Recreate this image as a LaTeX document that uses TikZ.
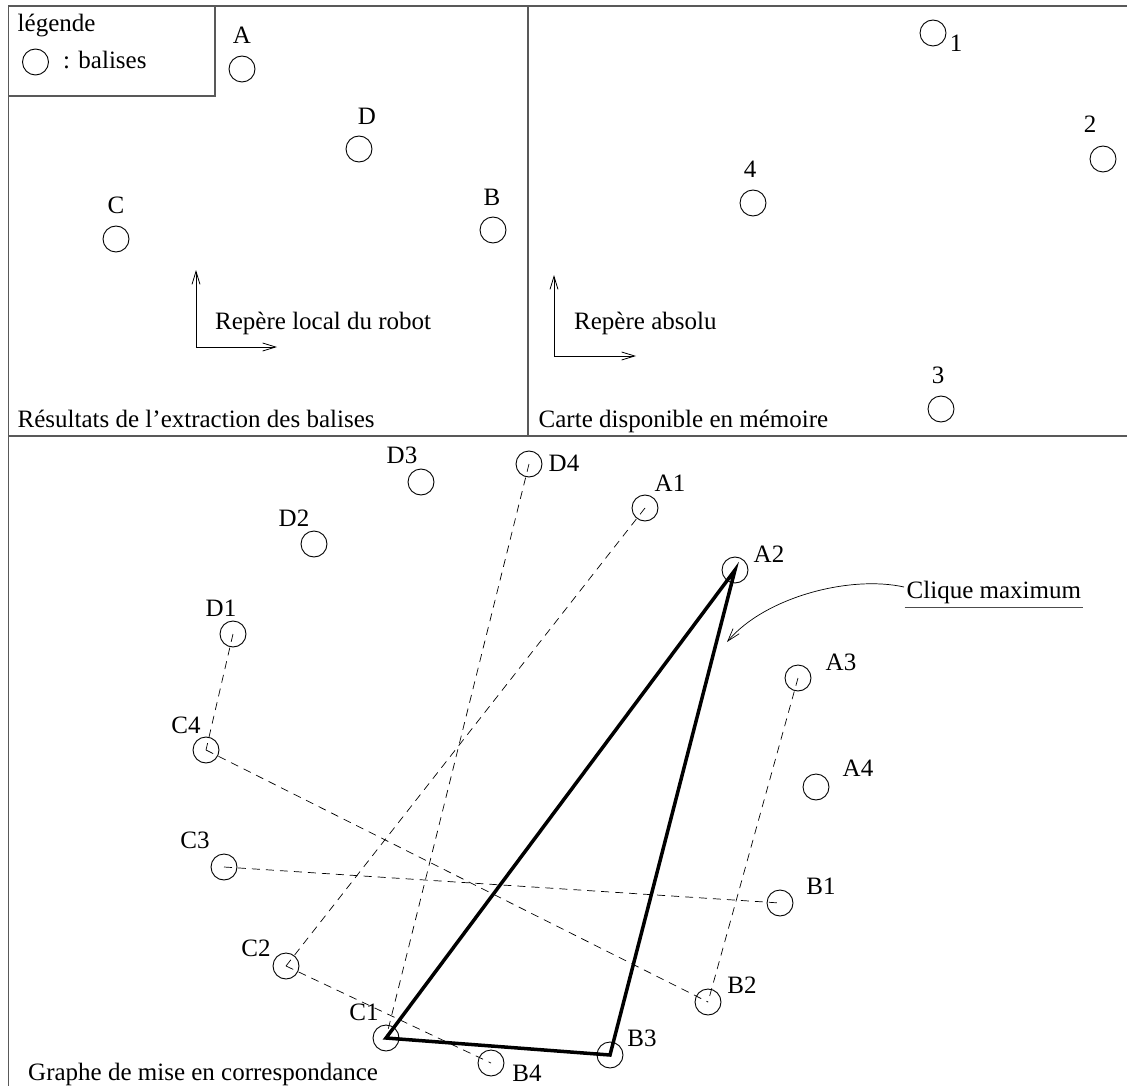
\documentclass[tikz,border=0pt]{standalone}
\usepackage{fontspec}
\setmainfont{Liberation Serif}
\usetikzlibrary{arrows.meta}

\begin{document}
\begin{tikzpicture}[
  x=1pt, y=-1pt,
  font=\fontsize{25}{30}\selectfont,
  frame/.style={black!65, line width=1.3pt},
  balise/.style={circle, draw, line width=0.9pt, minimum size=26pt, inner sep=0pt},
  lbl/.style={inner sep=0pt},
  txt/.style={inner sep=0pt, anchor=base west},
  axe/.style={line width=0.8pt, -{Straight Barb[length=13pt,width=8pt]}},
  corr/.style={line width=0.7pt, dash pattern=on 8pt off 6pt},
  clique/.style={line width=3.5pt, line join=miter}
]
  \useasboundingbox (0,0) rectangle (1127,1086);

  % frames
  \draw[frame] (8.5,6) rectangle (1140,1100);
  \draw[frame] (8.5,436) -- (1140,436);
  \draw[frame] (528,6) -- (528,436);
  \draw[frame] (8.5,6) rectangle (215,96);

  % --- legend
  \node[txt] (leg) at (17.5,31.5) {légende};
  \node[balise] (legb) at (35.5,62) {};
  \node[txt] (legt) at (63,68.5) {: balises};

  % --- panel: extraction des balises
  \node[balise] (A) at (242,69) {};   \node[lbl] (lA) at (242,35) {A};
  \node[balise] (D) at (359,149) {};  \node[lbl] (lD) at (367,116) {D};
  \node[balise] (C) at (116,239) {};  \node[lbl] (lC) at (116,205) {C};
  \node[balise] (B) at (493,230) {};  \node[lbl] (lB) at (492,197) {B};
  \coordinate (o1) at (196,347);
  \coordinate (y1) at (196,270);
  \coordinate (x1) at (277,347);
  \draw[axe] (o1) -- (y1);
  \draw[axe] (o1) -- (x1);
  \node[txt] (rep1) at (215,329) {Repère local du robot};
  \node[txt] (res) at (17.5,427.5) {Résultats de l’extraction des balises};

  % --- panel: carte
  \node[balise] (m1) at (933,33) {};   \node[lbl] (l1) at (956,43) {1};
  \node[balise] (m2) at (1103,159) {}; \node[lbl] (l2) at (1090,124) {2};
  \node[balise] (m4) at (753,203) {};  \node[lbl] (l4) at (750,169) {4};
  \node[balise] (m3) at (941,409) {};  \node[lbl] (l3) at (938,375) {3};
  \coordinate (o2) at (554,356);
  \coordinate (y2) at (554,275);
  \coordinate (x2) at (636,356);
  \draw[axe] (o2) -- (y2);
  \draw[axe] (o2) -- (x2);
  \node[txt] (rep2) at (574,329) {Repère absolu};
  \node[txt] (carte) at (538.5,427.5) {Carte disponible en mémoire};

  % --- panel: graphe de mise en correspondance
  \node[balise] (D1) at (233,634) {};   \node[lbl] (lD1) at (221,608) {D1};
  \node[balise] (D2) at (314,544) {};   \node[lbl] (lD2) at (294,518) {D2};
  \node[balise] (D3) at (421,482) {};   \node[lbl] (lD3) at (402,455) {D3};
  \node[balise] (D4) at (529,464) {};   \node[lbl] (lD4) at (564,463) {D4};
  \node[balise] (A1) at (645,508) {};   \node[lbl] (lA1) at (670,483) {A1};
  \node[balise] (A2) at (735,570) {};   \node[lbl] (lA2) at (769,554) {A2};
  \node[balise] (A3) at (798,678) {};   \node[lbl] (lA3) at (841,662) {A3};
  \node[balise] (A4) at (816,787) {};   \node[lbl] (lA4) at (858,768) {A4};
  \node[balise] (C4) at (206,750) {};   \node[lbl] (lC4) at (186,725) {C4};
  \node[balise] (C3) at (224,867) {};   \node[lbl] (lC3) at (195,840) {C3};
  \node[balise] (C2) at (286,966) {};   \node[lbl] (lC2) at (256,948) {C2};
  \node[balise] (C1) at (386,1038) {};  \node[lbl] (lC1) at (364,1012) {C1};
  \node[balise] (B1) at (780,903) {};   \node[lbl] (lB1) at (821,886) {B1};
  \node[balise] (B2) at (708,1002) {};  \node[lbl] (lB2) at (742,985) {B2};
  \node[balise] (B3) at (610,1055) {};  \node[lbl] (lB3) at (642,1038) {B3};
  \node[balise] (B4) at (491,1063) {};  \node[lbl] (lB4) at (527,1073) {B4};

  % correspondances compatibles
  \draw[corr] (D4.center) -- (C1.center);
  \draw[corr] (A1.center) -- (C2.center);
  \draw[corr] (D1.center) -- (C4.center);
  \draw[corr] (C4.center) -- (B2.center);
  \draw[corr] (C3.center) -- (B1.center);
  \draw[corr] (A3.center) -- (B2.center);
  \draw[corr] (C2.center) -- (B4.center);

  % clique maximum
  \draw[clique] (C1.center) -- (A2.center) -- (B3.center) -- cycle;
  \node[txt, inner xsep=2pt, inner ysep=3pt] (clq) at (904.5,598.5) {Clique maximum};
  \draw[black!70, line width=1pt] (clq.south west) -- (clq.south east);
  \coordinate (cs) at (904,587);
  \coordinate (ctip) at (727,642);
  \draw[line width=0.7pt, -{Straight Barb[length=13pt,width=8pt]}]
    (cs) .. controls (850,575) and (765,597) .. (ctip);

  \node[txt] (graphe) at (28,1080) {Graphe de mise en correspondance};
\end{tikzpicture}
\end{document}
